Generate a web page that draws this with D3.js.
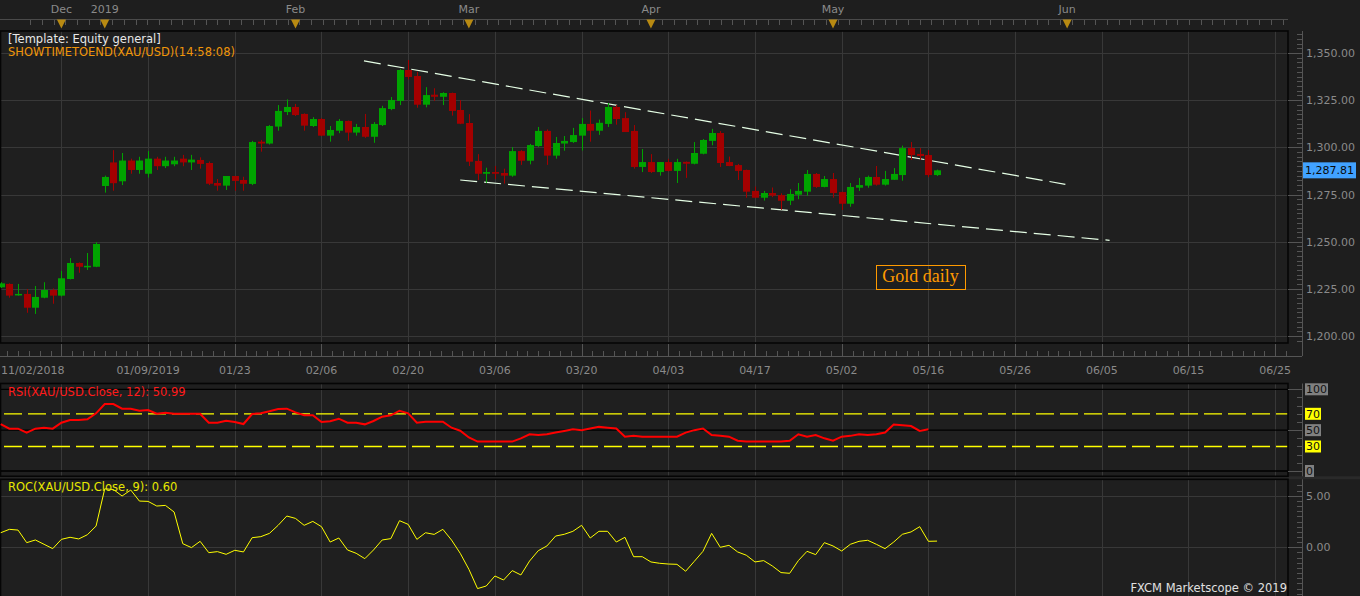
<!DOCTYPE html>
<html><head><meta charset="utf-8">
<script src="https://cdn.jsdelivr.net/npm/d3@7"></script>
<style>body{margin:0;background:#1e1e1e;overflow:hidden}svg{display:block}</style>
</head><body><svg id="c" width="1360" height="596"></svg>
<script>
// ---------------- DATA ----------------
const opens = [1225.8,1227.6,1221.6,1222.3,1215.0,1220.3,1224.4,1221.4,1230.2,1238.7,1236.6,1236.7,
 1279.5,1292.0,1282.0,1293.0,1288.0,1286.0,1294.0,1290.0,1291.0,1294.0,1292.0,
 1293.3,1291.7,1281.1,1279.7,1284.8,1282.7,1280.6,1303.0,1302.0,1311.0,1318.7,1321.4,1317.7,1311.3,1315.0,1306.2,1308.8,1314.0,1307.8,1310.8,1305.6,1311.8,1320.3,1324.6,1341.0,1337.8,1322.6,1327.9,1326.8,1328.8,1319.8,1312.9,1292.8,1286.0,1286.9,1286.4,1285.0,1298.0,1292.9,1300.7,1308.7,1295.6,1302.0,1302.8,1306.2,1312.4,1308.8,1312.4,1321.4,1315.5,1308.7,1289.6,1292.2,1286.9,1292.2,1287.5,1292.3,1291.3,1296.6,1303.4,1307.6,1292.2,1290.6,1288.0,1276.9,1273.3,1275.8,1274.7,1271.7,1274.9,1276.5,1285.9,1279.0,1283.2,1276.3,1270.1,1278.6,1279.7,1284.3,1280.2,1282.8,1285.3,1299.6,1296.5,1295.9,1285.3];
const highs = [1228.5,1227.9,1227.6,1224.9,1226.5,1228.5,1225.2,1234.5,1241.3,1239.0,1244.0,1249.7,
 1285.0,1298.5,1297.0,1294.0,1295.0,1298.0,1295.0,1295.0,1295.0,1296.0,1296.0,
 1294.7,1292.5,1283.2,1284.8,1284.8,1284.4,1303.4,1303.9,1311.8,1322.4,1325.4,1323.0,1318.0,1316.0,1315.5,1311.3,1315.0,1314.2,1312.4,1317.7,1313.4,1322.0,1326.7,1341.5,1346.3,1340.0,1331.9,1331.3,1329.2,1329.0,1325.0,1317.6,1296.4,1289.2,1290.1,1288.7,1300.1,1298.5,1301.8,1310.8,1309.5,1305.5,1306.0,1310.3,1315.5,1319.5,1314.7,1323.5,1322.4,1318.6,1311.8,1299.1,1296.4,1292.2,1293.9,1293.9,1292.5,1302.8,1304.4,1309.8,1308.6,1295.1,1291.2,1288.2,1279.2,1276.9,1278.7,1275.6,1277.8,1281.1,1288.0,1286.4,1284.8,1286.4,1276.5,1281.1,1283.8,1285.0,1290.1,1287.5,1289.0,1300.9,1302.8,1299.6,1298.5,1288.2];
const lows = [1225.4,1220.3,1221.4,1212.3,1211.7,1220.0,1217.1,1221.0,1230.0,1233.5,1235.0,1236.5,
 1276.0,1277.0,1280.0,1286.0,1286.0,1284.0,1288.0,1289.0,1290.0,1290.0,1288.0,
 1288.7,1280.0,1277.0,1277.4,1277.0,1277.0,1280.0,1297.7,1301.5,1308.8,1317.1,1316.6,1308.8,1310.8,1306.0,1303.0,1307.5,1303.5,1306.2,1305.0,1302.4,1311.3,1319.7,1322.4,1336.0,1321.0,1321.2,1324.6,1322.4,1316.8,1312.3,1290.1,1282.7,1281.2,1283.2,1280.8,1284.4,1290.7,1291.0,1300.2,1290.7,1294.0,1298.2,1302.3,1298.3,1303.0,1306.6,1310.8,1312.0,1308.1,1288.7,1286.9,1286.4,1285.0,1287.3,1281.1,1283.8,1291.0,1296.3,1301.1,1289.6,1290.0,1282.7,1273.3,1273.2,1271.8,1273.6,1266.9,1269.4,1272.5,1274.4,1278.5,1278.8,1273.3,1266.8,1268.5,1276.9,1278.6,1279.7,1279.7,1282.8,1282.3,1293.3,1293.3,1284.2,1284.8];
const closes = [1227.9,1221.4,1222.3,1215.0,1220.7,1224.4,1221.4,1230.6,1238.7,1236.7,1237.2,1248.8,
 1284.3,1281.0,1293.0,1288.0,1293.0,1294.0,1290.0,1293.0,1293.0,1292.0,1293.5,
 1291.2,1280.7,1279.7,1284.8,1282.2,1280.7,1302.8,1302.0,1311.3,1319.3,1321.4,1317.1,1311.5,1315.0,1306.2,1309.2,1314.0,1307.8,1310.8,1305.6,1312.4,1320.8,1325.1,1341.0,1337.3,1322.6,1327.7,1326.8,1328.8,1319.3,1312.5,1292.4,1286.0,1286.9,1286.0,1285.0,1298.0,1292.9,1301.2,1308.7,1295.6,1302.3,1303.4,1306.5,1312.4,1308.8,1313.0,1321.4,1315.0,1308.1,1289.6,1292.2,1286.9,1292.2,1287.5,1292.2,1291.3,1297.0,1303.9,1307.6,1291.7,1290.1,1287.5,1276.5,1273.3,1275.8,1274.4,1271.7,1275.3,1276.9,1285.9,1279.0,1283.2,1275.8,1270.1,1279.0,1280.0,1284.3,1280.2,1283.2,1285.9,1299.6,1295.9,1295.4,1285.3,1287.81];
const rsiValues = [57.5,51.8,51.8,46.9,51.8,53,51.8,59.1,62.4,62.4,63.3,70.6,82,82,76.3,76.3,73.8,74.7,70.1,71.4,70.1,70.1,70.1,70.1,59.1,59.1,61.6,60,57.5,69.8,70.6,73.1,75.9,76.3,71.8,68.2,68.2,60,60.8,64,59.1,59.1,57.1,61.2,66.5,68.2,73.8,70.6,59.1,60.4,60.4,60.4,53,49.3,
 41,36,36,36,36,36,40,45,44,45,47,49,51,50,52,54,53,52,42,43,42,42,42,42,42,47,50,52,44,43,42,37,36,36,36,36,36,37,45,42,44,40,37,42,43,45,44,45,47,57,56,55,49,50.99];
const rocValues = [1.41,1.74,1.67,0.45,0.71,0.29,-0.13,0.77,0.97,0.81,1.22,2.06,5.67,5.6,4.97,5.55,4.48,4.45,4.0,4.06,3.42,0.35,-0.03,0.58,-0.52,-0.42,-0.68,-0.29,-0.45,0.93,1.03,1.35,2.13,3.03,2.8,2.13,2.51,2.0,0.51,0.9,-0.26,-0.58,-1.1,-0.26,0.71,0.84,2.58,2.22,0.77,1.41,1.25,1.74,0.7,-0.58,
 -2.13,-4.0,-3.75,-2.78,-3.17,-2.26,-2.68,-1.33,-0.33,0.13,1.09,1.26,1.55,2.13,0.9,1.55,1.55,0.51,0.97,-0.91,-0.91,-1.42,-1.55,-1.62,-1.65,-2.32,-1.36,-0.39,1.35,0,0.19,-0.45,-0.77,-1.42,-1.29,-1.81,-2.45,-2.52,-1.29,-0.39,-0.71,0.45,0.13,-0.36,0.29,0.58,0.68,0.29,-0.13,0.51,1.26,1.49,2.0,0.58,0.60];
const dateLabels = ["11/02/2018","01/09/2019","01/23","02/06","02/20","03/06","03/20","04/03","04/17","05/02","05/16","05/26","06/05","06/15","06/25"];
const dateLabelIdx = [0,17,27,37,47,57,67,77,87,97,107,117,127,137,147];
const gridIdx = [7,17,27,37,47,57,67,77,87,97,107,117,127,137,147];
const monthLabels = ["Dec","2019","Feb","Mar","Apr","May","Jun"];
const monthIdx = [7,12,34,54,75,96,123];
const priceTicks = [1200,1225,1250,1275,1300,1325,1350];
const rsiLevels = [100,70,50,30,0];
const rocTicks = [0,5];
const upperTrend = [[41.9,1345.8],[122.8,1280.4]];
const lowerTrend = [[53.0,1282.7],[127.9,1250.7]];
const lastPrice = 1287.81;
const titles = {template:"[Template: Equity general]", timer:"SHOWTIMETOEND(XAU/USD)(14:58:08)",
  rsi:"RSI(XAU/USD.Close, 12): 50.99", roc:"ROC(XAU/USD.Close, 9): 0.60", note:"Gold daily", copy:"FXCM Marketscope \u00a9 2019"};
const noteAt = [106.1,1231.3];

// ---------------- LAYOUT ----------------
const FONT = "'DejaVu Sans', Verdana, sans-serif";
const PR = 1288, AX = 1302;
const main = {t:31, b:343}, rsiP = {t:383.5, b:476.3}, rocP = {t:479.3, b:600};
const x = d3.scaleLinear().domain([0,100]).range([0.7,867.7]);
const yP = d3.scaleLinear().domain([1200,1350]).range([336,53]);
const yR = d3.scaleLinear().domain([0,100]).range([471,389.3]);
const yC = d3.scaleLinear().domain([0,5]).range([547.3,495.7]);
const idxMax = x.invert(PR);

const svg = d3.select("#c");
svg.append("rect").attr("width",1360).attr("height",596).attr("fill","#1e1e1e");

[main,rsiP,rocP].forEach(p=>{
  svg.append("rect").attr("x",0.5).attr("y",p.t).attr("width",PR-0.5).attr("height",p.b-p.t).attr("fill","#1f1f1f");
});
svg.append("rect").attr("x",0).attr("y",476.3).attr("width",1360).attr("height",3).attr("fill","#2a2a2a");

[main,rsiP,rocP].forEach(p=>{
  svg.append("g").selectAll("line").data(gridIdx).join("line")
    .attr("x1",d=>Math.round(x(d))+0.5).attr("x2",d=>Math.round(x(d))+0.5)
    .attr("y1",p.t).attr("y2",p.b).attr("stroke","#383838");
});
svg.append("g").selectAll("line").data(priceTicks).join("line")
  .attr("x1",0).attr("x2",PR).attr("y1",d=>Math.round(yP(d))+0.5).attr("y2",d=>Math.round(yP(d))+0.5)
  .attr("stroke","#383838");
svg.append("g").selectAll("line").data(rocTicks).join("line")
  .attr("x1",0).attr("x2",PR).attr("y1",d=>Math.round(yC(d))+0.5).attr("y2",d=>Math.round(yC(d))+0.5)
  .attr("stroke","#383838");

// ---------- top month strip ----------
svg.append("g").selectAll("text").data(monthLabels).join("text")
  .attr("x",(d,i)=>x(monthIdx[i])).attr("y",13).attr("text-anchor","middle")
  .attr("font-family",FONT).attr("font-size",11).attr("fill","#8a8a8a").text(d=>d);
svg.append("line").attr("x1",0).attr("x2",PR).attr("y1",19.5).attr("y2",19.5).attr("stroke","#4a4a4a");
const topTicks = d3.range(3.4, idxMax, 1.35);
svg.append("g").selectAll("line").data(topTicks).join("line")
  .attr("x1",d=>Math.round(x(d))+0.5).attr("x2",d=>Math.round(x(d))+0.5)
  .attr("y1",20).attr("y2",25).attr("stroke","#555");
svg.append("g").selectAll("path").data(monthIdx).join("path")
  .attr("d",d=>{const c=x(d);return `M${c-4.5},19.5L${c+4.5},19.5L${c},28.5Z`;})
  .attr("fill","#b88a12");

// ---------- RSI levels ----------
svg.append("g").selectAll("line").data([100,50,0]).join("line")
  .attr("x1",0).attr("x2",PR).attr("y1",d=>yR(d)).attr("y2",d=>yR(d)).attr("stroke","#000").attr("stroke-width",1.3);
svg.append("g").selectAll("line").data([70,30]).join("line")
  .attr("x1",4).attr("x2",PR).attr("y1",d=>yR(d)).attr("y2",d=>yR(d))
  .attr("stroke","#ffff00").attr("stroke-width",1.3).attr("stroke-dasharray","18,6");

// ---------- panel borders ----------
[main,rsiP,rocP].forEach(p=>{
  svg.append("rect").attr("x",0.5).attr("y",p.t).attr("width",PR-0.5).attr("height",p.b-p.t)
    .attr("fill","none").attr("stroke","#050505").attr("stroke-width",1.6);
});

// ---------- trend lines ----------
[upperTrend,lowerTrend].forEach(tl=>{
  svg.append("line").attr("x1",x(tl[0][0])).attr("y1",yP(tl[0][1]))
    .attr("x2",x(tl[1][0])).attr("y2",yP(tl[1][1]))
    .attr("stroke","#e6ffe6").attr("stroke-width",1.2).attr("stroke-dasharray","17,7");
});

// ---------- candles ----------
const cg = svg.append("g");
const idx = d3.range(closes.length);
cg.selectAll("line").data(idx).join("line")
  .attr("x1",i=>Math.round(x(i))+0.5).attr("x2",i=>Math.round(x(i))+0.5)
  .attr("y1",i=>yP(highs[i])).attr("y2",i=>yP(lows[i]))
  .attr("stroke",i=>closes[i]>=opens[i]?"#00a400":"#a40000").attr("stroke-width",1);
cg.selectAll("rect").data(idx).join("rect")
  .attr("x",i=>Math.round(x(i))-3).attr("width",7)
  .attr("y",i=>yP(Math.max(opens[i],closes[i])))
  .attr("height",i=>Math.max(1.5,Math.abs(yP(opens[i])-yP(closes[i]))))
  .attr("fill",i=>closes[i]>=opens[i]?"#00a400":"#a40000");

// ---------- RSI & ROC lines ----------
svg.append("path").datum(rsiValues)
  .attr("d",d3.line().x((d,i)=>x(i)).y(d=>yR(d)))
  .attr("fill","none").attr("stroke","#ff0000").attr("stroke-width",2);
svg.append("path").datum(rocValues)
  .attr("d",d3.line().x((d,i)=>x(i)).y(d=>yC(d)))
  .attr("fill","none").attr("stroke","#ffff00").attr("stroke-width",1);

// ---------- texts in panels ----------
const TS = 11.5;
svg.append("text").attr("x",8).attr("y",43).attr("font-family",FONT).attr("font-size",TS)
  .attr("fill","#e8e8e8").text(titles.template);
svg.append("text").attr("x",8).attr("y",56).attr("font-family",FONT).attr("font-size",TS)
  .attr("fill","#f0960a").text(titles.timer);
svg.append("text").attr("x",8).attr("y",396).attr("font-family",FONT).attr("font-size",TS)
  .attr("fill","#ff1a1a").text(titles.rsi);
svg.append("text").attr("x",8).attr("y",491).attr("font-family",FONT).attr("font-size",TS)
  .attr("fill","#e8e800").text(titles.roc);
svg.append("text").attr("x",PR-1).attr("y",592).attr("text-anchor","end").attr("font-family",FONT).attr("font-size",TS)
  .attr("fill","#e0e0e0").text(titles.copy);
// Gold daily note
const ng = svg.append("g");
const nt = ng.append("text").attr("x",x(noteAt[0])).attr("y",yP(noteAt[1])+5.5).attr("text-anchor","middle")
  .attr("font-family","'Liberation Serif', 'Times New Roman', serif").attr("font-size",18)
  .attr("fill","#ff9a00").text(titles.note);
const nb = nt.node().getBBox();
ng.append("rect").attr("x",Math.round(nb.x-6)+0.5).attr("y",Math.round(yP(noteAt[1])-12)+0.5)
  .attr("width",Math.round(nb.width+12)).attr("height",24)
  .attr("fill","none").attr("stroke","#ff9a00");

// ---------- bottom x ruler ----------
svg.append("line").attr("x1",0).attr("x2",AX).attr("y1",356.5).attr("y2",356.5).attr("stroke","#555");
const minorX = d3.range(-3,idxMax,1.25).filter(d=>x(d)>0);
svg.append("g").selectAll("line").data(minorX).join("line")
  .attr("x1",d=>Math.round(x(d))+0.5).attr("x2",d=>Math.round(x(d))+0.5)
  .attr("y1",351).attr("y2",356).attr("stroke","#555");
svg.append("g").selectAll("line").data(gridIdx).join("line")
  .attr("x1",d=>Math.round(x(d))+0.5).attr("x2",d=>Math.round(x(d))+0.5)
  .attr("y1",344).attr("y2",356).attr("stroke","#555");
svg.append("g").selectAll("text").data(dateLabels).join("text")
  .attr("x",(d,i)=>i===0?1:x(dateLabelIdx[i])).attr("y",374)
  .attr("text-anchor",(d,i)=>i===0?"start":"middle")
  .attr("font-family",FONT).attr("font-size",11).attr("fill","#8a8a8a").text(d=>d);

// ---------- right axes ----------
function vAxis(t,b){ svg.append("line").attr("x1",AX+0.5).attr("x2",AX+0.5).attr("y1",t).attr("y2",b).attr("stroke","#555"); }
vAxis(main.t,356); vAxis(rsiP.t,rsiP.b); vAxis(rocP.t,596);
const pMinor = d3.range(1195,1362.5,2.5).filter(v=>yP(v)>main.t+1 && yP(v)<main.b-1);
svg.append("g").selectAll("line").data(pMinor).join("line")
  .attr("x1",AX-5).attr("x2",AX).attr("y1",d=>Math.round(yP(d))+0.5).attr("y2",d=>Math.round(yP(d))+0.5).attr("stroke","#555");
svg.append("g").selectAll("line").data(priceTicks).join("line")
  .attr("x1",PR).attr("x2",AX).attr("y1",d=>Math.round(yP(d))+0.5).attr("y2",d=>Math.round(yP(d))+0.5).attr("stroke","#555");
svg.append("g").selectAll("text").data(priceTicks).join("text")
  .attr("x",AX+4).attr("y",d=>yP(d)+4).attr("font-family",FONT).attr("font-size",11).attr("fill","#8a8a8a")
  .text(d=>d3.format(",.2f")(d));
svg.append("rect").attr("x",AX+1).attr("y",yP(lastPrice)-8).attr("width",53).attr("height",16).attr("fill","#41a2ff");
svg.append("text").attr("x",AX+3).attr("y",yP(lastPrice)+4).attr("font-family",FONT).attr("font-size",11)
  .attr("fill","#0a0a0a").text(d3.format(",.2f")(lastPrice));
// RSI axis
const rMinor = d3.range(0,101,10);
svg.append("g").selectAll("line").data(rMinor).join("line")
  .attr("x1",d=>[100,50,0].includes(d)?PR:AX-5).attr("x2",AX).attr("y1",d=>Math.round(yR(d))+0.5).attr("y2",d=>Math.round(yR(d))+0.5).attr("stroke","#555");
rsiLevels.forEach(d=>{
  const gg = svg.append("g");
  const t = gg.append("text").attr("x",AX+4).attr("y",yR(d)+4).attr("font-family",FONT).attr("font-size",11)
    .attr("fill","#111").text(d);
  const b = t.node().getBBox();
  gg.insert("rect",()=>t.node()).attr("x",b.x-1).attr("y",yR(d)-6).attr("width",b.width+2).attr("height",12)
    .attr("fill",(d===70||d===30)?"#ffff00":"#808080");
});
// ROC axis
const cMinor = d3.range(-5,7.5,0.5).filter(v=>yC(v)>rocP.t+1 && yC(v)<596);
svg.append("g").selectAll("line").data(cMinor).join("line")
  .attr("x1",d=>(d%5===0)?PR:AX-5).attr("x2",AX).attr("y1",d=>Math.round(yC(d))+0.5).attr("y2",d=>Math.round(yC(d))+0.5).attr("stroke","#555");
svg.append("g").selectAll("text").data(rocTicks).join("text")
  .attr("x",AX+4).attr("y",d=>yC(d)+4).attr("font-family",FONT).attr("font-size",11).attr("fill","#8a8a8a")
  .text(d=>d3.format(".2f")(d));
</script></body></html>
